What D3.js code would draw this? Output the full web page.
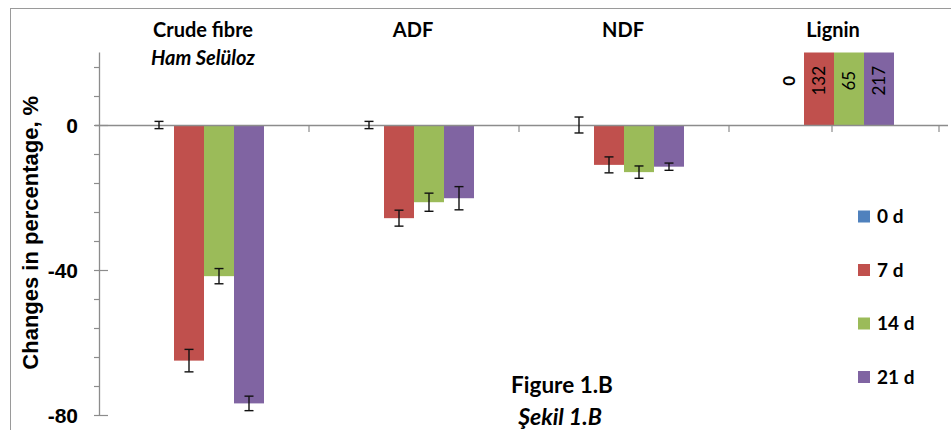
<!DOCTYPE html>
<html>
<head>
<meta charset="utf-8">
<script src="https://cdn.jsdelivr.net/npm/d3@7"></script>
<style>
  html, body { margin: 0; padding: 0; background: #fff; }
  svg { display: block; }
</style>
</head>
<body>
<div id="chart"></div>
<script>
// ---- data ----
const categories = ["Crude fibre", "ADF", "NDF", "Lignin"];
const subtitles = ["Ham Selüloz", "", "", ""];
const seriesNames = ["0 d", "7 d", "14 d", "21 d"];
const day0 = [0, 0, 0, 0];
const day7 = [-65.0, -25.7, -11.0, 132];
const day14 = [-41.7, -21.3, -13.0, 65];
const day21 = [-76.8, -20.2, -11.5, 217];
const err0 = [1.0, 1.0, 2.2, null];
const err7 = [3.1, 2.2, 2.2, null];
const err14 = [2.1, 2.5, 1.7, null];
const err21 = [2.0, 3.2, 1.0, null];
const yMajorTicks = [0, -40, -80];
const yMinorTicks = [16, 8, -8, -16, -24, -32, -48, -56, -64, -72];
const labelledCategory = "Lignin";
const figureTitle = "Figure 1.B";
const figureSubtitle = "Şekil 1.B";
const yTitle = "Changes in percentage, %";

const colors = ["#4F81BD", "#C0504D", "#9BBB59", "#8064A2"];
const values = [day0, day7, day14, day21];
const errors = [err0, err7, err14, err21];

const W = 951, H = 430;
const svg = d3.select("#chart").append("svg").attr("width", W).attr("height", H);

// outer chart border
svg.append("rect").attr("x", 10.5).attr("y", 8.5).attr("width", 960).attr("height", 460)
  .attr("fill", "#fff").attr("stroke", "#9a9a9a").attr("stroke-width", 1);

const plot = { left: 99, right: 939, top: 52.5, bottom: 415 };

const x = d3.scaleBand().domain(categories).range([plot.left, plot.right]).paddingInner(0).paddingOuter(0);
const inner = d3.scaleBand().domain(seriesNames).range([0, x.bandwidth()]).paddingInner(0).paddingOuter(1.5);
const y = d3.scaleLinear().domain([-80, 20]).range([plot.bottom, plot.top]);

svg.append("clipPath").attr("id", "plotClip").append("rect")
  .attr("x", plot.left).attr("y", plot.top).attr("width", plot.right - plot.left + 20).attr("height", plot.bottom - plot.top);

// bars
const barData = [];
seriesNames.forEach((s, si) => {
  categories.forEach((c, ci) => {
    barData.push({ s, si, c, v: values[si][ci], e: errors[si][ci] });
  });
});

const gBars = svg.append("g").attr("clip-path", "url(#plotClip)");
gBars.selectAll("rect").data(barData).join("rect")
  .attr("x", d => x(d.c) + inner(d.s))
  .attr("width", inner.bandwidth())
  .attr("y", d => y(Math.max(0, d.v)))
  .attr("height", d => Math.abs(y(d.v) - y(0)))
  .attr("fill", d => colors[d.si]);

// x axis line
const axisColor = "#8c8c8c";
svg.append("line").attr("x1", 95).attr("x2", 948).attr("y1", y(0) + 0.5).attr("y2", y(0) + 0.5)
  .attr("stroke", axisColor).attr("stroke-width", 1.3);
// category boundary ticks
const boundaries = categories.map(c => x(c)).concat([x(categories[categories.length - 1]) + x.bandwidth()]);
svg.selectAll(".xtick").data(boundaries.slice(1)).join("line")
  .attr("x1", d => d).attr("x2", d => d)
  .attr("y1", y(0)).attr("y2", y(0) + 7)
  .attr("stroke", axisColor).attr("stroke-width", 1.2);
// extra tick near the Lignin centre (present in the original)
svg.append("line")
  .attr("x1", x(labelledCategory) + x.bandwidth() / 2 - 2).attr("x2", x(labelledCategory) + x.bandwidth() / 2 - 2)
  .attr("y1", y(0)).attr("y2", y(0) + 7)
  .attr("stroke", axisColor).attr("stroke-width", 1.2);

// y axis
svg.append("line").attr("x1", plot.left + 0.5).attr("x2", plot.left + 0.5).attr("y1", plot.top).attr("y2", plot.bottom)
  .attr("stroke", axisColor).attr("stroke-width", 1.3);
svg.selectAll(".ymaj").data(yMajorTicks).join("line")
  .attr("x1", plot.left - 5).attr("x2", plot.left + 9)
  .attr("y1", d => y(d) + 0.5).attr("y2", d => y(d) + 0.5)
  .attr("stroke", axisColor).attr("stroke-width", 1.2);
svg.selectAll(".ymin").data(yMinorTicks).join("line")
  .attr("x1", plot.left - 5).attr("x2", plot.left)
  .attr("y1", d => y(d) + 0.5).attr("y2", d => y(d) + 0.5)
  .attr("stroke", axisColor).attr("stroke-width", 1.2);
svg.selectAll(".ylab").data(yMajorTicks).join("text")
  .attr("x", 78).attr("y", d => y(d)).attr("dy", "0.36em")
  .attr("text-anchor", "end")
  .attr("font-family", "Liberation Sans, Arial, sans-serif").attr("font-weight", "bold").attr("font-size", 21)
  .attr("fill", "#000").text(d => d);

// y title
svg.append("text")
  .attr("transform", `translate(38, ${(y(-80) + y(20)) / 2 - 1}) rotate(-90)`)
  .attr("text-anchor", "middle")
  .attr("font-family", "Liberation Sans, Arial, sans-serif").attr("font-weight", "bold").attr("font-size", 22)
  .attr("fill", "#000").text(yTitle);

// error bars
const errData = barData.filter(d => d.e != null);
const gErr = svg.append("g").attr("stroke", "#111").attr("stroke-width", 1.4);
errData.forEach(d => {
  const cx = x(d.c) + inner(d.s) + inner.bandwidth() / 2;
  const top = y(d.v + d.e), bot = y(d.v - d.e);
  gErr.append("line").attr("x1", cx).attr("x2", cx).attr("y1", top).attr("y2", bot);
  gErr.append("line").attr("x1", cx - 4.5).attr("x2", cx + 4.5).attr("y1", top).attr("y2", top);
  gErr.append("line").attr("x1", cx - 4.5).attr("x2", cx + 4.5).attr("y1", bot).attr("y2", bot);
});

// data labels for Lignin (rotated)
const ci = categories.indexOf(labelledCategory);
const lblY = (y(0) + y(20)) / 2 - 8;
seriesNames.forEach((s, si) => {
  const cx = x(labelledCategory) + inner(s) + inner.bandwidth() / 2;
  svg.append("text")
    .attr("transform", `translate(${cx + 6}, ${lblY}) rotate(-90)`)
    .attr("text-anchor", "middle")
    .attr("font-family", "Lato, sans-serif")
    .attr("font-weight", si === 0 ? "bold" : "normal")
    .attr("font-size", 17).attr("fill", "#000")
    .text(values[si][ci]);
});

// category titles
svg.selectAll(".ctitle").data(categories).join("text")
  .attr("x", d => x(d) + x.bandwidth() / 2 - 1).attr("y", 37)
  .attr("text-anchor", "middle")
  .attr("font-family", "Lato, sans-serif").attr("font-weight", "bold").attr("font-size", 20)
  .attr("fill", "#000").text(d => d);
svg.selectAll(".csub").data(categories.filter((c, i) => subtitles[i])).join("text")
  .attr("x", d => x(d) + x.bandwidth() / 2 - 1).attr("y", 65)
  .attr("text-anchor", "middle")
  .attr("font-family", "Lato, sans-serif").attr("font-weight", "bold").attr("font-style", "italic").attr("font-size", 20)
  .attr("fill", "#000").text(d => subtitles[categories.indexOf(d)]);

// legend
const legend = svg.append("g");
seriesNames.forEach((s, i) => {
  const cy = 216.5 + i * 53.5;
  legend.append("rect").attr("x", 858).attr("y", cy - 6).attr("width", 12).attr("height", 12).attr("fill", colors[i]);
  legend.append("text").attr("x", 877).attr("y", cy).attr("dy", "0.36em")
    .attr("font-family", "Lato, sans-serif").attr("font-weight", "bold").attr("font-size", 19)
    .attr("fill", "#000").text(s);
});

// figure caption
svg.append("text").attr("x", 562).attr("y", 393).attr("text-anchor", "middle")
  .attr("font-family", "Lato, sans-serif").attr("font-weight", "bold").attr("font-size", 22.5)
  .attr("fill", "#000").text(figureTitle);
svg.append("text").attr("x", 560).attr("y", 425).attr("text-anchor", "middle")
  .attr("font-family", "Lato, sans-serif").attr("font-weight", "bold").attr("font-style", "italic").attr("font-size", 23)
  .attr("fill", "#000").text(figureSubtitle);
</script>
</body>
</html>
